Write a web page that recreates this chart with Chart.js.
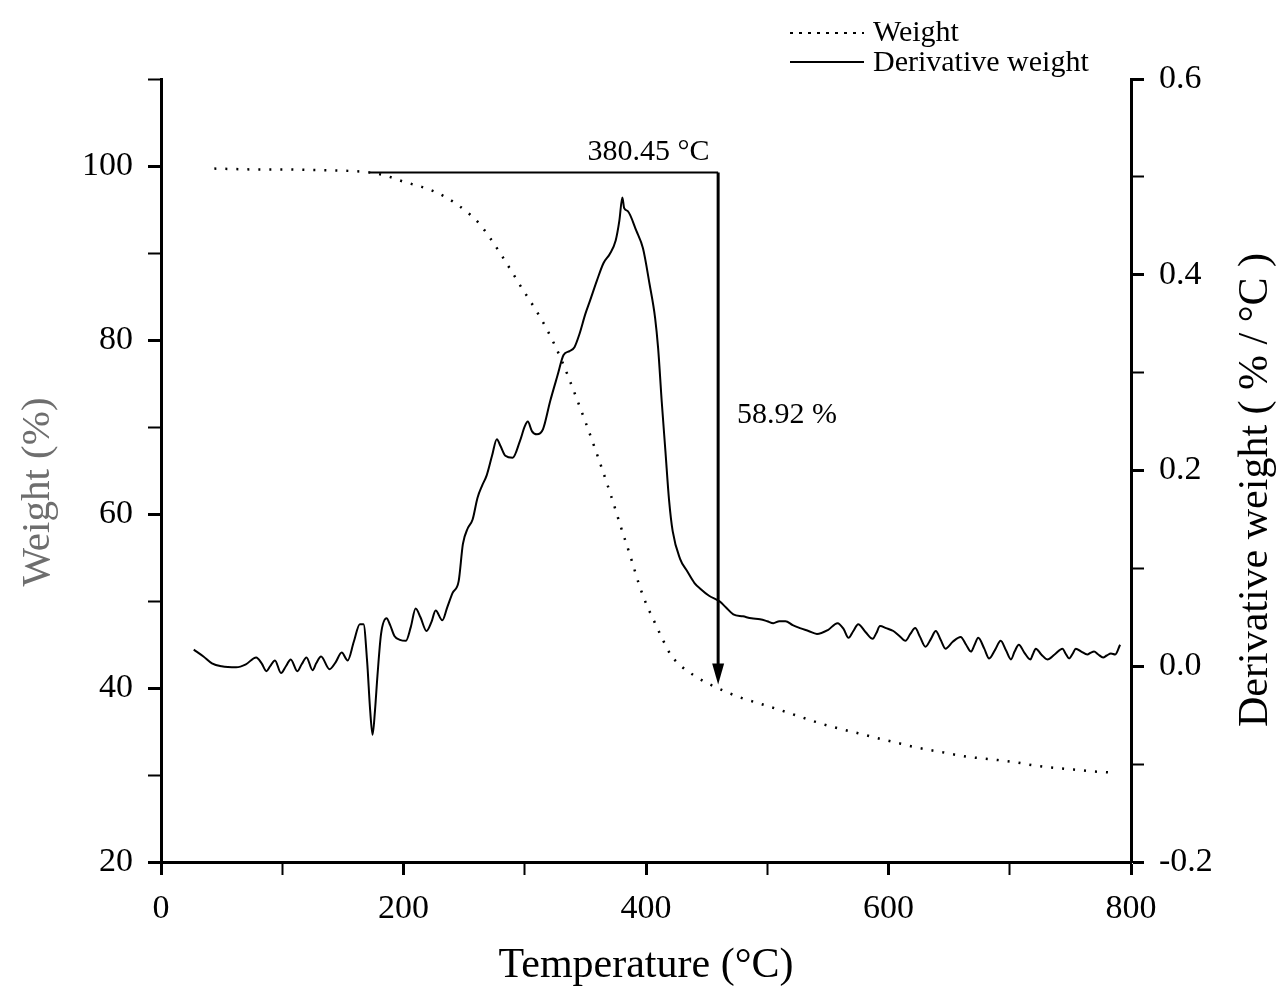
<!DOCTYPE html>
<html>
<head>
<meta charset="utf-8">
<script src="https://cdn.jsdelivr.net/npm/chart.js@4.4.1/dist/chart.umd.min.js"></script>
<style>
  html, body { margin: 0; padding: 0; background: #fff; }
  canvas { display: block; }
</style>
</head>
<body>
<canvas id="tgaChart" width="1281" height="994"></canvas>
<script>
// TGA curve (weight %, left axis)
const weightTemp = [44, 60, 80, 100, 120, 140, 160, 172, 185, 200, 215, 225, 235, 245, 255, 263, 272, 281, 290, 297,
  308, 318, 330, 340, 350, 360, 370, 380, 387, 395, 401, 406, 413, 421, 430, 439, 450, 467, 480, 494,
  510, 525, 540, 552, 575, 595, 610, 622, 645, 665, 685, 703, 720, 731, 755, 770, 783];
const weightPct = [99.7, 99.65, 99.6, 99.6, 99.55, 99.5, 99.4, 99.25, 98.9, 98.2, 97.6, 97.1, 96.4, 95.5, 94.4, 93.3, 91.6, 89.7, 87.7, 86.1,
  83.7, 81.3, 77.8, 74.3, 70.6, 66.7, 62.6, 58.2, 55.2, 51.6, 49.4, 47.9, 45.8, 43.7, 42.4, 41.5, 40.6, 39.5, 38.8, 38.2,
  37.5, 36.8, 36.1, 35.6, 34.8, 34.1, 33.6, 33.2, 32.6, 32.1, 31.8, 31.5, 31.1, 30.9, 30.6, 30.4, 30.3];

// DTG curve (derivative weight %/°C, right axis)
const derivTemp = [27, 35, 42, 50, 62, 70, 78.5, 83, 87, 90, 94, 99, 103, 107, 112.5, 116, 120, 125, 128, 132,
  139, 144, 149, 154, 159, 164, 167, 170, 172.5, 174.5, 176.5, 178.5, 181.5, 186, 189, 192.5, 197, 202, 206, 210,
  214, 219, 223, 226.5, 232, 236, 240.5, 245.5, 249, 253, 257, 261, 265, 268.6, 273, 277, 280, 284, 290, 296,
  300, 302.5, 306, 310, 315, 321, 327, 332, 337, 341, 345, 350, 353.7, 359.5, 365, 370, 375, 378, 380.5, 382,
  385, 392, 397.5, 403, 407.5, 410, 413, 416, 419, 422, 428, 434, 440, 445, 452, 461, 466, 472, 480, 487,
  494, 500, 505, 510, 515, 521, 527, 534, 541, 550, 558, 563, 567, 571, 575, 581, 587, 590, 593, 598,
  604, 609, 614, 618, 622, 626, 630.5, 635, 639, 643, 647, 653, 659.5, 664, 668, 671, 674, 679, 683, 688,
  692.5, 697, 701, 704, 707.5, 712, 717, 719, 721.5, 726, 731, 737, 743.5, 746, 749, 752, 754.5, 759, 764, 767,
  769.5, 773, 777, 780, 783.5, 787, 791];
const derivVal = [0.017, 0.010, 0.003, 0.000, -0.001, 0.002, 0.009, 0.003, -0.005, 0.000, 0.006, -0.007, 0.000, 0.007, -0.005, 0.002, 0.009, -0.004, 0.003, 0.010,
  -0.003, 0.004, 0.014, 0.006, 0.025, 0.043, 0.043, 0.005, -0.045, -0.070, -0.045, -0.010, 0.033, 0.049, 0.042, 0.031, 0.027, 0.026, 0.040, 0.059,
  0.050, 0.036, 0.045, 0.057, 0.047, 0.060, 0.075, 0.087, 0.125, 0.141, 0.150, 0.172, 0.185, 0.195, 0.215, 0.232, 0.225, 0.215, 0.213, 0.230,
  0.245, 0.250, 0.240, 0.237, 0.242, 0.271, 0.297, 0.318, 0.322, 0.326, 0.339, 0.360, 0.373, 0.394, 0.412, 0.421, 0.435, 0.455, 0.479, 0.468,
  0.465, 0.445, 0.427, 0.390, 0.356, 0.325, 0.270, 0.220, 0.170, 0.138, 0.110, 0.097, 0.085, 0.079, 0.072, 0.066, 0.060, 0.053, 0.051, 0.049,
  0.048, 0.046, 0.044, 0.046, 0.046, 0.042, 0.039, 0.036, 0.033, 0.037, 0.044, 0.038, 0.029, 0.036, 0.043, 0.035, 0.028, 0.034, 0.041, 0.039,
  0.036, 0.031, 0.026, 0.033, 0.039, 0.030, 0.020, 0.028, 0.036, 0.027, 0.018, 0.025, 0.030, 0.022, 0.015, 0.022, 0.029, 0.018, 0.008, 0.017,
  0.026, 0.016, 0.007, 0.015, 0.022, 0.014, 0.007, 0.012, 0.018, 0.012, 0.007, 0.012, 0.018, 0.013, 0.008, 0.013, 0.018, 0.015, 0.012, 0.014,
  0.015, 0.012, 0.009, 0.011, 0.013, 0.012, 0.022];

// annotation: onset line, arrow and labels
const markStartT = 172;
const markEndT = 459.5;
const markTopW = 99.25;
const markTipW = 40.4;
const peakLabel = '380.45 °C';
const lossLabel = '58.92 %';

const SERIF = "'Liberation Serif', 'Times New Roman', serif";

const annotate = {
  id: 'annotate',
  afterDatasetsDraw(chart) {
    const { ctx, scales: { x, y } } = chart;
    const xL = x.getPixelForValue(markStartT);
    const xR = x.getPixelForValue(markEndT);
    const yTop = y.getPixelForValue(markTopW);
    const yTip = y.getPixelForValue(markTipW);
    ctx.save();
    ctx.strokeStyle = '#000';
    ctx.fillStyle = '#000';
    ctx.lineWidth = 2;
    ctx.beginPath();
    ctx.moveTo(xL, yTop);
    ctx.lineTo(xR, yTop);
    ctx.stroke();
    ctx.lineWidth = 3;
    ctx.beginPath();
    ctx.moveTo(xR, yTop);
    ctx.lineTo(xR, yTip - 18);
    ctx.stroke();
    ctx.beginPath();
    ctx.moveTo(xR - 6, yTip - 21);
    ctx.lineTo(xR + 6, yTip - 21);
    ctx.lineTo(xR, yTip);
    ctx.closePath();
    ctx.fill();

    ctx.font = '30px ' + SERIF;
    ctx.textBaseline = 'alphabetic';
    ctx.textAlign = 'center';
    ctx.fillText(peakLabel, x.getPixelForValue(402), yTop - 13);
    ctx.textAlign = 'left';
    ctx.fillText(lossLabel, x.getPixelForValue(475), y.getPixelForValue(70.5));

    // axis titles on the sides, both read bottom to top
    ctx.font = '42px ' + SERIF;
    ctx.textAlign = 'center';
    ctx.textBaseline = 'middle';
    ctx.save();
    ctx.translate(1256, 490);
    ctx.rotate(-Math.PI / 2);
    ctx.fillText('Derivative weight ( % / °C )', 0, 0);
    ctx.restore();
    ctx.save();
    ctx.translate(38, 492);
    ctx.rotate(-Math.PI / 2);
    ctx.fillStyle = '#6e6e6e';
    ctx.font = '41px ' + SERIF;
    ctx.fillText('Weight (%)', 0, 0);
    ctx.restore();

    // legend
    ctx.lineWidth = 2;
    ctx.setLineDash([3, 6]);
    ctx.beginPath();
    ctx.moveTo(790, 33);
    ctx.lineTo(864, 33);
    ctx.stroke();
    ctx.setLineDash([]);
    ctx.beginPath();
    ctx.moveTo(790, 62);
    ctx.lineTo(864, 62);
    ctx.stroke();
    ctx.font = '30px ' + SERIF;
    ctx.textAlign = 'left';
    ctx.textBaseline = 'alphabetic';
    ctx.fillText('Weight', 873, 41);
    ctx.fillText('Derivative weight', 873, 71);
    ctx.restore();
  }
};

const tickFont = { family: SERIF, size: 34 };

new Chart(document.getElementById('tgaChart'), {
  type: 'line',
  data: {
    datasets: [{
      label: 'Weight',
      data: weightTemp.map((t, i) => ({ x: t, y: weightPct[i] })),
      yAxisID: 'y',
      borderColor: '#000',
      borderWidth: 2.5,
      borderDash: [2, 9],
      pointRadius: 0,
      cubicInterpolationMode: 'monotone'
    }, {
      label: 'Derivative weight',
      data: derivTemp.map((t, i) => ({ x: t, y: derivVal[i] })),
      yAxisID: 'y1',
      borderColor: '#000',
      borderWidth: 2,
      pointRadius: 0,
      cubicInterpolationMode: 'monotone'
    }]
  },
  options: {
    responsive: false,
    devicePixelRatio: 1,
    animation: false,
    layout: { padding: { top: 79, left: 0, right: 0, bottom: 0 } },
    plugins: { legend: { display: false }, tooltip: { enabled: false } },
    scales: {
      x: {
        type: 'linear',
        position: 'bottom',
        min: 0,
        max: 800,
        afterFit: s => { s.height = 132; },
        border: { color: '#000', width: 3 },
        grid: {
          drawOnChartArea: false,
          tickLength: 13,
          tickColor: '#000',
          tickWidth: c => (c.tick && c.tick.value % 200 === 0 ? 3 : 2)
        },
        ticks: {
          stepSize: 100,
          autoSkip: false,
          maxRotation: 0,
          padding: 14,
          color: '#000',
          font: tickFont,
          callback: v => (v % 200 === 0 ? v : '')
        },
        title: {
          display: true,
          text: 'Temperature (°C)',
          color: '#000',
          font: { family: SERIF, size: 42, lineHeight: 1.2 },
          padding: { top: 0, bottom: 3 }
        }
      },
      y: {
        position: 'left',
        min: 20,
        max: 110,
        afterFit: s => { s.width = 161; },
        border: { color: '#000', width: 3 },
        grid: {
          drawOnChartArea: false,
          tickLength: 13,
          tickColor: '#000',
          tickWidth: c => (c.tick && c.tick.value % 20 === 0 ? 3 : 2)
        },
        ticks: {
          stepSize: 10,
          autoSkip: false,
          padding: 15,
          color: '#000',
          font: tickFont,
          callback: v => (v % 20 === 0 && v <= 100 ? v : '')
        }
      },
      y1: {
        position: 'right',
        min: -0.2,
        max: 0.6,
        afterFit: s => { s.width = 150; },
        border: { color: '#000', width: 3 },
        grid: {
          drawOnChartArea: false,
          tickLength: 13,
          tickColor: '#000',
          tickWidth: c => (c.tick && Math.round(c.tick.value * 10) % 2 === 0 ? 3 : 2)
        },
        ticks: {
          stepSize: 0.1,
          autoSkip: false,
          padding: 15,
          color: '#000',
          font: tickFont,
          callback: v => (Math.round(v * 10) % 2 === 0 ? v.toFixed(1) : '')
        }
      }
    }
  },
  plugins: [annotate]
});
</script>
</body>
</html>
